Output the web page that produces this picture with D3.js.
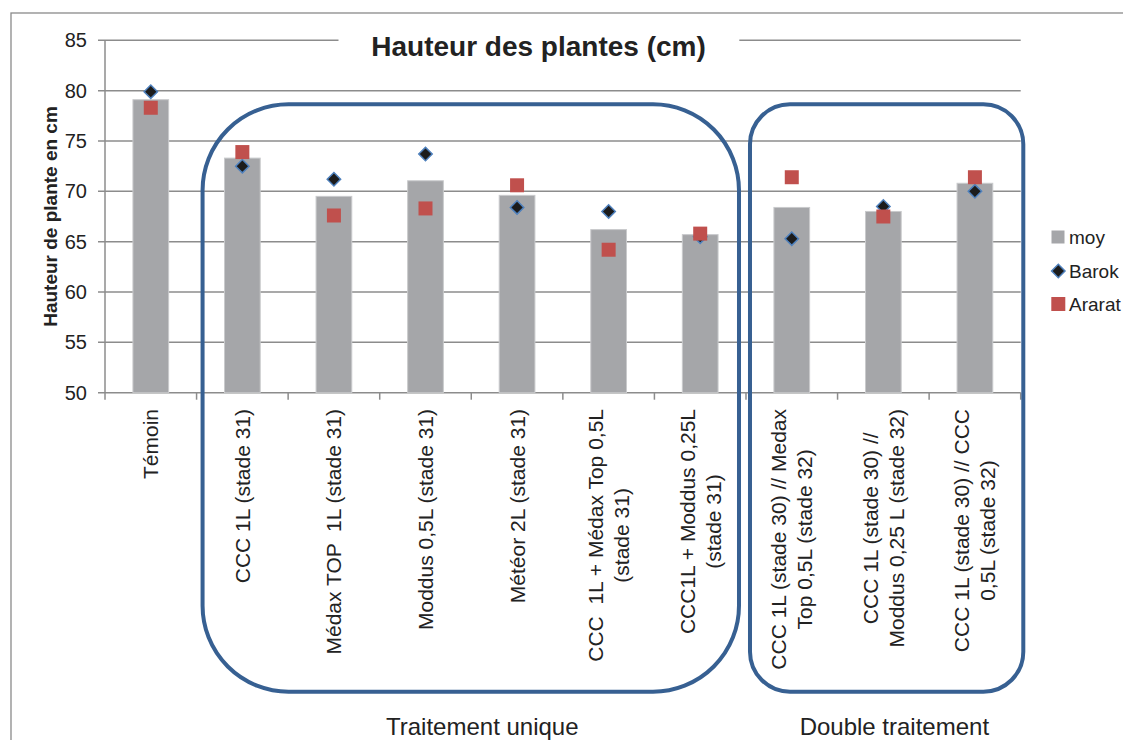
<!DOCTYPE html>
<html>
<head>
<meta charset="utf-8">
<script src="https://cdn.jsdelivr.net/npm/d3@7"></script>
<style>
  body { margin: 0; background: #fff; }
  text { font-family: "Liberation Sans", Arial, sans-serif; fill: #222; white-space: pre; }
</style>
</head>
<body>
<div id="chart"></div>
<script>
// data
var categories = [
  "Témoin",
  "CCC 1L (stade 31)",
  "Médax TOP  1L (stade 31)",
  "Moddus 0,5L (stade 31)",
  "Météor 2L (stade 31)",
  "CCC  1L + Médax Top 0,5L\n(stade 31)",
  "CCC1L + Moddus 0,25L\n(stade 31)",
  "CCC 1L (stade 30) // Medax\nTop 0,5L (stade 32)",
  "CCC 1L (stade 30) //\nModdus 0,25 L (stade 32)",
  "CCC 1L (stade 30) // CCC\n0,5L (stade 32)"
]
var moy    = [79.1, 73.3, 69.5, 71.05, 69.6, 66.2, 65.7, 68.4, 68.0, 70.8]
var barok  = [79.9, 72.5, 71.2, 73.7, 68.4, 68.0, 65.5, 65.3, 68.5, 70.0]
var ararat = [78.3, 73.9, 67.6, 68.3, 70.6, 64.2, 65.8, 71.4, 67.5, 71.4]
var yTicks = [50, 55, 60, 65, 70, 75, 80, 85]
var seriesNames = ["moy", "Barok", "Ararat"]
var groupLabels = ["Traitement unique", "Double traitement"]
var groupFirst = [1, 7]
var groupLast = [6, 9]

var W = 1123, H = 740
var plot = {left: 105, right: 1020.7, top: 40.3, bottom: 392.7}

var svg = d3.select("#chart").append("svg")
    .attr("width", W).attr("height", H)

// outer chart frame (runs past the window)
svg.append("rect")
    .attr("x", 11).attr("y", 13)
    .attr("width", 1300).attr("height", 900)
    .style("fill", "none").style("stroke", "#8a8a8a").style("stroke-width", 1.3)

var x = d3.scaleBand().domain(d3.range(categories.length))
    .range([plot.left, plot.right]).padding(0)
var y = d3.scaleLinear().domain([50, 85]).range([plot.bottom, plot.top])
var barW = x.bandwidth()*0.39

// gridlines
svg.append("g").selectAll("line").data(yTicks).enter().append("line")
    .attr("x1", plot.left-7).attr("x2", plot.right)
    .attr("y1", function(d){ return y(d) }).attr("y2", function(d){ return y(d) })
    .style("stroke", "#8c8c8c").style("stroke-width", 1.5)

svg.append("g").selectAll("text").data(yTicks).enter().append("text")
    .attr("x", plot.left-18).attr("y", function(d){ return y(d) })
    .attr("dy", "0.35em").attr("text-anchor", "end")
    .style("font-size", "20px")
    .text(function(d){ return d })

// y axis line
svg.append("line")
    .attr("x1", plot.left).attr("x2", plot.left)
    .attr("y1", plot.top).attr("y2", plot.bottom)
    .style("stroke", "#8c8c8c").style("stroke-width", 1.5)

// x axis ticks at band boundaries
var bounds = d3.range(categories.length+1)
svg.append("g").selectAll("line").data(bounds).enter().append("line")
    .attr("x1", function(d){ return plot.left + d*x.step() })
    .attr("x2", function(d){ return plot.left + d*x.step() })
    .attr("y1", plot.bottom).attr("y2", plot.bottom+7)
    .style("stroke", "#8c8c8c").style("stroke-width", 1.5)

// bars
svg.append("g").selectAll("rect").data(moy).enter().append("rect")
    .attr("x", function(d,i){ return x(i) + x.bandwidth()/2 - barW/2 })
    .attr("width", barW)
    .attr("y", function(d){ return y(d) })
    .attr("height", function(d){ return plot.bottom - y(d) })
    .style("fill", "#a5a6a9").style("stroke", "#c9cacc").style("stroke-width", 1)

// Barok diamonds
var diamond = d3.symbol().type(d3.symbolSquare).size(90)
svg.append("g").selectAll("path").data(barok).enter().append("path")
    .attr("d", diamond)
    .attr("transform", function(d,i){ return "translate(" + (x(i)+x.bandwidth()/2) + "," + y(d) + ") rotate(45)" })
    .style("fill", "#1c1c1c").style("stroke", "#4f81bd").style("stroke-width", 1.5)

// Ararat squares
var square = d3.symbol().type(d3.symbolSquare).size(196)
svg.append("g").selectAll("path").data(ararat).enter().append("path")
    .attr("d", square)
    .attr("transform", function(d,i){ return "translate(" + (x(i)+x.bandwidth()/2) + "," + y(d) + ")" })
    .style("fill", "#c0504d")

// x category labels, rotated, lines centred on each other
var labelTop = 409, lineGap = 26
categories.forEach(function(c, i){
    var lines = c.split("\n")
    var g = svg.append("g")
    var t = g.selectAll("text").data(lines).enter().append("text")
        .attr("text-anchor", "middle").attr("dominant-baseline", "central")
        .style("font-size", "21px")
        .text(function(d){ return d })
    var maxLen = d3.max(t.nodes(), function(n){ return n.getComputedTextLength() })
    var cx = x(i) + x.bandwidth()/2
    t.attr("transform", function(d,j){
        var lx = cx + (j - (lines.length-1)/2)*lineGap
        return "translate(" + lx + "," + (labelTop + maxLen/2) + ") rotate(-90)"
    })
})

// title with white box over the top gridline
svg.append("rect")
    .attr("x", 338.5).attr("y", 22).attr("width", 400.8).attr("height", 46)
    .style("fill", "#fff")
svg.append("text")
    .attr("x", 538.5).attr("y", 56)
    .attr("text-anchor", "middle")
    .style("font-size", "28px").style("font-weight", "bold")
    .text("Hauteur des plantes (cm)")

// y axis title
svg.append("text")
    .attr("transform", "translate(50," + ((plot.top+plot.bottom)/2) + ") rotate(-90)")
    .attr("text-anchor", "middle").attr("dominant-baseline", "central")
    .style("font-size", "19px").style("font-weight", "bold")
    .text("Hauteur de plante en cm")

// rounded group boxes
var boxColor = "#376092"
var boxTop = 104.3, boxBottom = 691.7
var boxes = [
    {x0: x(groupFirst[0]) + 6, x1: x(groupLast[0]) + x.step() - 7, r: 86},
    {x0: x(groupFirst[1]) + 4, x1: plot.right + 2.6, r: 40}
]
svg.append("g").selectAll("rect").data(boxes).enter().append("rect")
    .attr("x", function(d){ return d.x0 }).attr("y", boxTop)
    .attr("width", function(d){ return d.x1 - d.x0 }).attr("height", boxBottom - boxTop)
    .attr("rx", function(d){ return d.r }).attr("ry", function(d){ return d.r })
    .style("fill", "none").style("stroke", boxColor).style("stroke-width", 4)

// group labels
svg.append("g").selectAll("text").data(groupLabels).enter().append("text")
    .attr("x", function(d,i){ return (x(groupFirst[i]) + x(groupLast[i]) + x.step())/2 + 11 })
    .attr("y", 735)
    .attr("text-anchor", "middle")
    .style("font-size", "24px")
    .text(function(d){ return d })

// legend
var legY = [237, 271, 304]
var leg = svg.append("g")
leg.append("rect").attr("x", 1051.5).attr("y", legY[0]-6.5).attr("width", 13).attr("height", 13)
    .style("fill", "#a5a6a9")
leg.append("path").attr("d", diamond)
    .attr("transform", "translate(1058.3," + legY[1] + ") rotate(45)")
    .style("fill", "#1c1c1c").style("stroke", "#4f81bd").style("stroke-width", 1.5)
leg.append("path").attr("d", square)
    .attr("transform", "translate(1058.3," + legY[2] + ")")
    .style("fill", "#c0504d")
leg.selectAll("text").data(seriesNames).enter().append("text")
    .attr("x", 1069).attr("y", function(d,i){ return legY[i] })
    .attr("dy", "0.35em")
    .style("font-size", "19px")
    .text(function(d){ return d })
</script>
</body>
</html>
